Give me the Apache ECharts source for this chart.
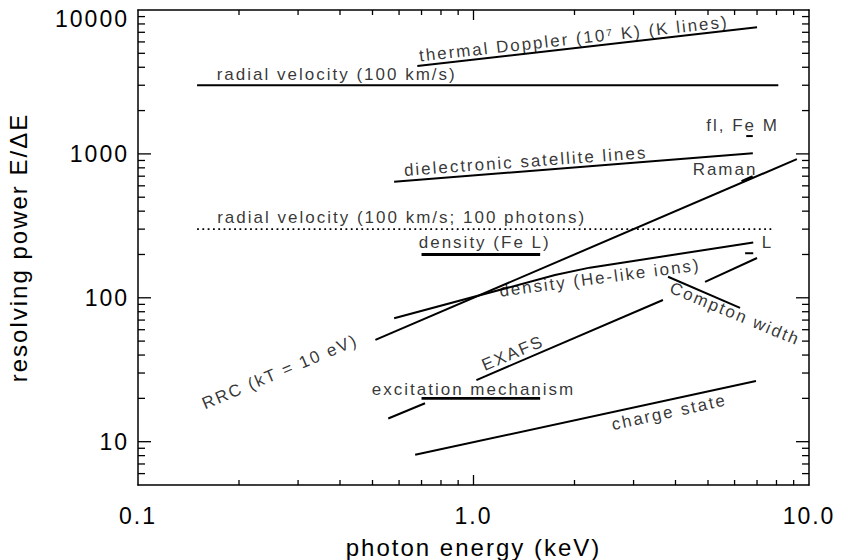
<!DOCTYPE html>
<html>
<head>
<meta charset="utf-8">
<script src="https://cdn.jsdelivr.net/npm/echarts@6/dist/echarts.min.js"></script>
<style>
  html, body { margin: 0; padding: 0; background: #fff; }
  #chart { width: 841px; height: 560px; letter-spacing: 2px; }
</style>
</head>
<body>
<div id="chart"></div>
<script>
// Resolving power E/ΔE required by X-ray spectroscopic diagnostics versus photon energy.

// Axis ticks
const xTickValues = [0.1, 1, 10];
const xTickLabels = ['0.1', '1.0', '10.0'];
const yTickValues = [10, 100, 1000, 10000];
const yTickLabels = ['10', '100', '1000', '10000'];
const xMinorTicks = [0.2, 0.3, 0.4, 0.5, 0.6, 0.7, 0.8, 0.9, 2, 3, 4, 5, 6, 7, 8, 9];
const yMinorTicks = [6, 7, 8, 9, 20, 30, 40, 50, 60, 70, 80, 90,
  200, 300, 400, 500, 600, 700, 800, 900, 2000, 3000, 4000, 5000, 6000, 7000, 8000, 9000];

// Requirements, as [energy keV, E/ΔE]
const thermalDoppler = [[0.68, 4080], [7.0, 7580]];
const radialVelocity = [[0.15, 3000], [8.1, 3000]];
const radialVelocity100Photons = [[0.15, 300], [7.9, 300]];
const feMFluorescence = [[6.5, 1330], [6.8, 1330]];
const dielectronicSatellites = [[0.58, 640], [6.8, 1010]];
const rrc = [[0.51, 51], [9.2, 920]];
const raman = [[6.3, 641], [6.8, 694]];
const densityFeL = [[0.70, 200], [1.58, 200]];
const lineL = [[6.45, 204], [6.82, 204]];
const densityHeLike = [[0.58, 72], [1.75, 144], [2.22, 162], [6.82, 242]];
const comptonWidth = [[3.8, 140], [6.23, 85]];
const exafsLow = [[0.557, 14.5], [0.717, 18.5]];
const exafsMid = [[1.02, 26.8], [3.67, 96.5]];
const exafsHigh = [[4.9, 129], [7.0, 189]];
const excitationMechanism = [[0.70, 20], [1.58, 20]];
const chargeState = [[0.67, 8.1], [6.95, 26.4]];

// Text labels: [text, energy, E/ΔE, rotation in degrees]
const annotations = [
  ['thermal Doppler (10\u2077 K) (K lines)', 1.99, 6290, 6.3],
  ['radial velocity (100 km/s)', 0.391, 3590, 0],
  ['fl, Fe M', 6.34, 1563, 0],
  ['dielectronic satellite lines', 1.43, 885, 4.2],
  ['Raman', 5.62, 773, 0],
  ['radial velocity (100 km/s; 100 photons)', 0.611, 362, 0],
  ['density (Fe L)', 1.08, 243, 0],
  ['L', 7.52, 244, 0],
  ['density (He-like ions)', 2.38, 137, 7.5],
  ['Compton width', 6.02, 77.2, -22.5],
  ['EXAFS', 1.31, 41.2, 23],
  ['excitation mechanism', 1.0, 23.2, 0],
  ['charge state', 3.83, 16.0, 12.3],
  ['RRC (kT = 10 eV)', 0.265, 30.5, 22.8]
];

const FONT = '"Liberation Sans", Arial, Helvetica, sans-serif';
const INK = '#000';

// Plot frame and axis ranges
const GRID = { left: 138, right: 32, top: 10, bottom: 75 };
const X_MIN = 0.1, X_MAX = 10, Y_MIN = 5, Y_MAX = 10000;
const WIDTH = 841, HEIGHT = 560;

function lineSeries(name, data, width, dash) {
  return {
    name: name,
    type: 'line',
    data: data,
    showSymbol: false,
    symbol: 'none',
    silent: true,
    z: 3,
    lineStyle: { color: INK, width: width || 2, type: dash || 'solid', cap: 'butt' }
  };
}

// Tick marks as short segments on the log axes: a length in pixels becomes
// a factor along the axis, from the number of pixels per decade.
const xDecadePx = (WIDTH - GRID.left - GRID.right) / (Math.log10(X_MAX) - Math.log10(X_MIN));
const yDecadePx = (HEIGHT - GRID.top - GRID.bottom) / (Math.log10(Y_MAX) - Math.log10(Y_MIN));
function tickSeries(points) {
  return {
    type: 'line', data: points, showSymbol: false, symbol: 'none', silent: true,
    z: 4, clip: false,
    lineStyle: { color: INK, width: 1.3, cap: 'butt' }
  };
}
function xTicks(values, len) {
  const f = Math.pow(10, len / yDecadePx);
  const out = [];
  values.forEach(function (v) {
    out.push(tickSeries([[v, Y_MIN], [v, Y_MIN * f]]));
    out.push(tickSeries([[v, Y_MAX], [v, Y_MAX / f]]));
  });
  return out;
}
function yTicks(values, len) {
  const f = Math.pow(10, len / xDecadePx);
  const out = [];
  values.forEach(function (v) {
    out.push(tickSeries([[X_MIN, v], [X_MIN * f, v]]));
    out.push(tickSeries([[X_MAX, v], [X_MAX / f, v]]));
  });
  return out;
}

function labelFor(values, labels) {
  return function (v) {
    for (let i = 0; i < values.length; i++) {
      if (Math.abs(Math.log10(v) - Math.log10(values[i])) < 1e-6) return labels[i];
    }
    return '';
  };
}

const xLabel = labelFor(xTickValues, xTickLabels);
const yLabelPlain = labelFor(yTickValues, yTickLabels);
const yLabel = function (v) {
  const s = yLabelPlain(v);
  // the top label sits just under the frame
  return s === yTickLabels[yTickLabels.length - 1] ? '{top|' + s + '}' : s;
};

const logX = {
  type: 'log', logBase: 10, min: X_MIN, max: X_MAX,
  splitLine: { show: false },
  axisLine: { show: true, onZero: false, lineStyle: { color: INK, width: 1.5 } },
  axisTick: { show: false },
  minorTick: { show: false }
};
const logY = {
  type: 'log', logBase: 10, min: Y_MIN, max: Y_MAX,
  splitLine: { show: false },
  axisLine: { show: true, onZero: false, lineStyle: { color: INK, width: 1.5 } },
  axisTick: { show: false },
  minorTick: { show: false }
};

const chart = echarts.init(document.getElementById('chart'), null, { renderer: 'svg' });

const dataSeries = [
  lineSeries('thermal Doppler', thermalDoppler, 2),
  lineSeries('radial velocity', radialVelocity, 2),
  lineSeries('radial velocity, 100 photons', radialVelocity100Photons, 1.8, [1.8, 3.5]),
  lineSeries('fl, Fe M', feMFluorescence, 2),
  lineSeries('dielectronic satellite lines', dielectronicSatellites, 2),
  lineSeries('RRC', rrc, 2),
  lineSeries('Raman', raman, 3),
  lineSeries('density (Fe L)', densityFeL, 3),
  lineSeries('L', lineL, 2),
  lineSeries('density (He-like ions)', densityHeLike, 2),
  lineSeries('Compton width', comptonWidth, 2),
  lineSeries('EXAFS', exafsLow, 2),
  lineSeries('EXAFS', exafsMid, 2),
  lineSeries('EXAFS', exafsHigh, 2),
  lineSeries('excitation mechanism', excitationMechanism, 2.6),
  lineSeries('charge state', chargeState, 2),
  {
    name: 'labels',
    type: 'scatter',
    silent: true,
    z: 5,
    symbolSize: 1,
    itemStyle: { color: 'rgba(0,0,0,0)' },
    label: {
      show: true, position: 'inside', align: 'center', verticalAlign: 'middle',
      fontFamily: FONT, fontSize: 17, color: INK
    },
    data: annotations.map(function (a) {
      return { value: [a[1], a[2]], label: { formatter: a[0], rotate: a[3] } };
    })
  }
];

const tickMarks = [].concat(
  xTicks(xMinorTicks, 5),
  xTicks(xTickValues.slice(1, -1), 10),
  yTicks(yMinorTicks, 7),
  yTicks(yTickValues.slice(0, -1), 13)
);

try {
  chart.setOption({
    animation: false,
    textStyle: { fontFamily: FONT, color: INK },
    grid: { left: GRID.left, right: GRID.right, top: GRID.top, bottom: GRID.bottom,
      containLabel: false, outerBoundsMode: 'none' },
    xAxis: [
      Object.assign({}, logX, {
        position: 'bottom',
        name: 'photon energy (keV)',
        nameLocation: 'middle',
        nameGap: 50,
        nameTextStyle: { fontFamily: FONT, fontSize: 24, color: INK },
        axisLabel: {
          show: true, margin: 19, fontFamily: FONT, fontSize: 23, color: INK,
          showMinLabel: true, showMaxLabel: true, formatter: xLabel
        }
      }),
      Object.assign({}, logX, { position: 'top', axisLabel: { show: false } })
    ],
    yAxis: [
      Object.assign({}, logY, {
        position: 'left',
        name: 'resolving power E/\u0394E',
        nameLocation: 'middle',
        nameGap: 108,
        nameTextStyle: { fontFamily: FONT, fontSize: 24, color: INK },
        axisLabel: {
          show: true, margin: 9, fontFamily: FONT, fontSize: 23, color: INK,
          showMinLabel: true, showMaxLabel: true, formatter: yLabel,
          rich: { top: { fontFamily: FONT, fontSize: 23, color: INK, padding: [17, 0, 0, 0] } }
        }
      }),
      Object.assign({}, logY, { position: 'right', axisLabel: { show: false } })
    ],
    series: dataSeries.concat(tickMarks)
  });
} catch (e) {
  // the chart keeps whatever was drawn
}
</script>
</body>
</html>
